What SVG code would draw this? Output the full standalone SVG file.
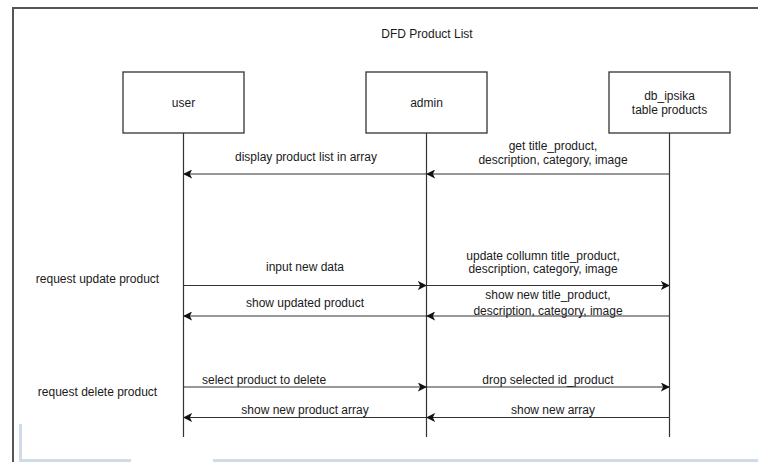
<svg xmlns="http://www.w3.org/2000/svg" width="758" height="462" viewBox="0 0 758 462">
<defs>
<style>
text{font-family:"Liberation Sans",Arial,sans-serif;font-size:12px;fill:#1a1a1a}
.c{text-anchor:middle}
.box{fill:#fff;stroke:#333;stroke-width:1.3}
.life{stroke:#333;stroke-width:1.2;fill:none}
.msg{stroke:#333;stroke-width:1.2;fill:none;marker-end:url(#ah)}
.frame{stroke:#555;stroke-width:2;fill:none}
.deco{fill:#cfdbe6}
</style>
<marker id="ah" viewBox="0 0 10 10" refX="9" refY="5" markerWidth="9" markerHeight="9" markerUnits="userSpaceOnUse" orient="auto">
<path d="M0,0 L10,5 L0,10 L2.5,5 Z" fill="#111"/>
</marker>
</defs>
<rect width="758" height="462" fill="#fff"/>
<g id="frame">
<path class="frame" d="M13,462 V8 H758"/>
<rect class="deco" x="19" y="424" width="3" height="38"/>
<rect class="deco" x="19" y="459" width="112" height="3"/>
<rect class="deco" x="213" y="459" width="545" height="3"/>
</g>
<text class="c" x="427" y="38">DFD Product List</text>
<g id="lifelines">
<line class="life" x1="183.5" y1="133" x2="183.5" y2="437"/>
<line class="life" x1="426.5" y1="133" x2="426.5" y2="437"/>
<line class="life" x1="669.5" y1="133" x2="669.5" y2="437"/>
</g>
<g id="user"><rect class="box" x="123" y="72" width="121" height="61"/><text class="c" x="183.5" y="107">user</text></g>
<g id="admin"><rect class="box" x="366" y="72" width="121" height="61"/><text class="c" x="426.5" y="107">admin</text></g>
<g id="db"><rect class="box" x="609" y="72" width="121" height="61"/><text class="c" x="669.5" y="100">db_ipsika</text><text class="c" x="669.5" y="114">table products</text></g>
<g id="connectors">
<line class="msg" x1="426" y1="174" x2="184" y2="174"/>
<line class="msg" x1="669" y1="174" x2="427" y2="174"/>
<line class="msg" x1="184" y1="285.5" x2="426" y2="285.5"/>
<line class="msg" x1="427" y1="285.5" x2="669" y2="285.5"/>
<line class="msg" x1="426" y1="316" x2="184" y2="316"/>
<line class="msg" x1="669" y1="316" x2="427" y2="316"/>
<line class="msg" x1="184" y1="387" x2="426" y2="387"/>
<line class="msg" x1="427" y1="387" x2="669" y2="387"/>
<line class="msg" x1="426" y1="417.5" x2="184" y2="417.5"/>
<line class="msg" x1="669" y1="417.5" x2="427" y2="417.5"/>
</g>
<g id="labels">
<text class="c" x="306" y="161">display product list in array</text>
<text class="c" x="553" y="150">get title_product,</text>
<text class="c" x="553" y="164">description, category, image</text>
<text class="c" x="305" y="271">input new data</text>
<text class="c" x="543" y="260">update collumn title_product,</text>
<text class="c" x="543" y="273">description, category, image</text>
<text class="c" x="305" y="307">show updated product</text>
<text class="c" x="548" y="299">show new title_product,</text>
<text class="c" x="548" y="315">description, category, image</text>
<text x="202" y="384">select product to delete</text>
<text class="c" x="548" y="384">drop selected id_product</text>
<text class="c" x="305" y="414">show new product array</text>
<text class="c" x="553" y="414">show new array</text>
<text class="c" x="97.5" y="283">request update product</text>
<text class="c" x="97.5" y="396">request delete product</text>
</g>
</svg>
